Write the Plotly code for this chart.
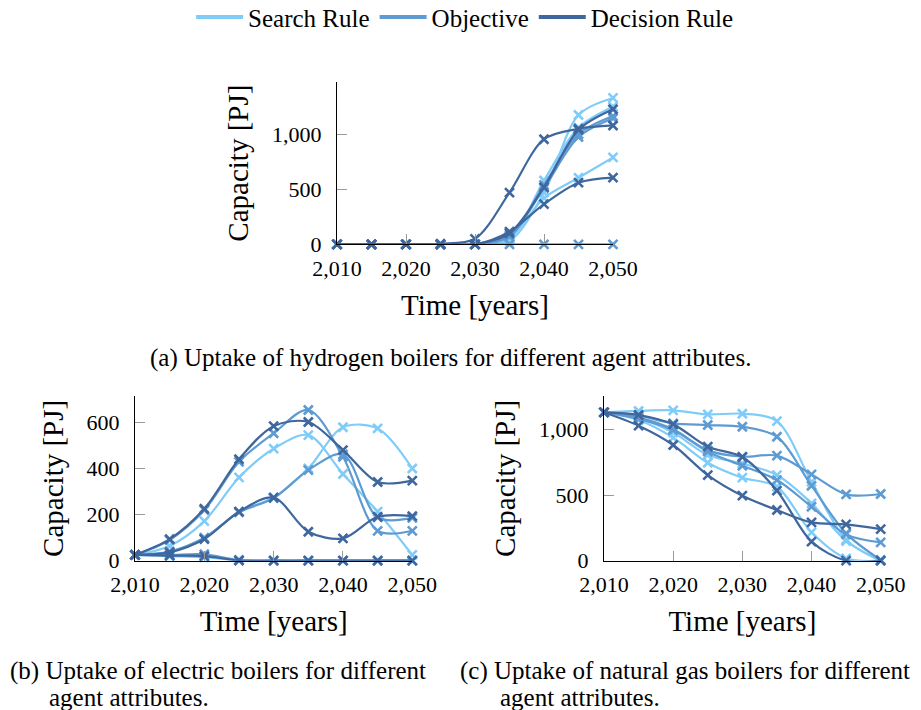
import plotly.graph_objects as go

# ---------------------------------------------------------------- data
years = [2010, 2015, 2020, 2025, 2030, 2035, 2040, 2045, 2050]

group_names = ["Search Rule", "Objective", "Decision Rule"]
group_colors = ["#80CCF9", "#5D9BD2", "#3F679E"]

# (a) hydrogen boilers [PJ]
h2_search_1 = [0, 0, 0, 0, 0, 30, 470, 1175, 1330]
h2_search_2 = [0, 0, 0, 0, 0, 50, 580, 1060, 1250]
h2_search_3 = [0, 0, 0, 0, 0, 60, 420, 605, 790]
h2_objective_1 = [0, 0, 0, 0, 0, 70, 540, 1000, 1165]
h2_objective_2 = [0, 0, 0, 0, 0, 80, 510, 975, 1145]
h2_objective_3 = [0, 0, 0, 0, 0, 0, 0, 0, 0]
h2_decision_1 = [0, 0, 0, 5, 50, 470, 955, 1050, 1080]
h2_decision_2 = [0, 0, 0, 0, 0, 115, 365, 560, 606]
h2_decision_3 = [0, 0, 0, 0, 0, 100, 520, 1040, 1227]

# (b) electric boilers [PJ]
el_search_1 = [25, 64, 172, 362, 487, 546, 377, 213, 25]
el_search_2 = [25, 39, 97, 213, 275, 401, 580, 575, 401]
el_search_3 = [25, 20, 15, 2, 0, 0, 0, 0, 0]
el_objective_1 = [25, 90, 220, 430, 554, 655, 452, 130, 130]
el_objective_2 = [25, 40, 100, 210, 272, 394, 462, 188, 186]
el_objective_3 = [25, 25, 28, 3, 0, 0, 0, 0, 0]
el_decision_1 = [25, 94, 226, 441, 585, 603, 481, 342, 348]
el_decision_2 = [25, 36, 94, 213, 274, 126, 97, 191, 194]
el_decision_3 = [25, 22, 20, 1, 0, 0, 0, 0, 0]

# (c) natural gas boilers [PJ]
ng_search_1 = [1129, 1140, 1145, 1114, 1119, 1063, 600, 160, 0]
ng_search_2 = [1129, 1071, 937, 746, 632, 563, 216, 18, 0]
ng_search_3 = [1129, 1085, 975, 805, 740, 652, 437, 150, 0]
ng_objective_1 = [1129, 1104, 1046, 1033, 1020, 944, 571, 208, 5]
ng_objective_2 = [1129, 1090, 1000, 840, 792, 800, 657, 505, 508]
ng_objective_3 = [1129, 1080, 995, 830, 723, 614, 411, 200, 140]
ng_decision_1 = [1129, 1028, 881, 652, 495, 386, 292, 277, 241]
ng_decision_2 = [1129, 1109, 1038, 868, 789, 533, 145, 0, 0]

panels = [
    ("x", "y", [[h2_search_1, h2_search_2, h2_search_3],
                [h2_objective_1, h2_objective_2, h2_objective_3],
                [h2_decision_1, h2_decision_2, h2_decision_3]]),
    ("x2", "y2", [[el_search_1, el_search_2, el_search_3],
                  [el_objective_1, el_objective_2, el_objective_3],
                  [el_decision_1, el_decision_2, el_decision_3]]),
    ("x3", "y3", [[ng_search_1, ng_search_2, ng_search_3],
                  [ng_objective_1, ng_objective_2, ng_objective_3],
                  [ng_decision_1, ng_decision_2]]),
]

FONT = "Liberation Serif"


def serif(size):
    return dict(family=FONT, size=size, color="black")


fig = go.Figure()

for xa, ya, groups in panels:
    for name, color, series in zip(group_names, group_colors, groups):
        for values in series:
            fig.add_trace(go.Scatter(
                x=years, y=values, xaxis=xa, yaxis=ya,
                mode="lines+markers",
                line=dict(color=color, width=2.2, shape="spline", smoothing=0.9),
                marker=dict(symbol="x-thin", size=9, color=color,
                            line=dict(color=color, width=2.6)),
                cliponaxis=False, showlegend=False, hoverinfo="skip",
            ))

# legend entries (one per attribute group)
for name, color in zip(group_names, group_colors):
    fig.add_trace(go.Scatter(
        x=[None], y=[None], mode="lines", name=name,
        line=dict(color=color, width=4), showlegend=True,
    ))

W, H = 921, 710


def xdom(x0, x1):
    return [x0 / W, x1 / W]


def ydom(top, bottom):
    return [1 - bottom / H, 1 - top / H]


def x_axis(dom, anchor):
    return dict(
        domain=dom, anchor=anchor, range=[2010, 2050], automargin=False,
        tickvals=[2010, 2020, 2030, 2040, 2050], tickformat=",d",
        showline=True, linecolor="black", linewidth=1,
        ticks="inside", ticklen=10, tickcolor="#9a9a9a", tickwidth=1,
        showgrid=False, zeroline=False,
        tickfont=serif(22), ticklabelstandoff=4,
        title=dict(text="Time [years]", font=serif(29), standoff=14),
    )


def y_axis(dom, anchor, top, ticks):
    return dict(
        domain=dom, anchor=anchor, range=[0, top], automargin=False,
        tickvals=ticks, tickformat=",d",
        showline=True, linecolor="black", linewidth=1,
        ticks="inside", ticklen=10, tickcolor="#9a9a9a", tickwidth=1,
        showgrid=False, zeroline=False,
        tickfont=serif(22), ticklabelstandoff=10,
        title=dict(text="Capacity [PJ]", font=serif(29), standoff=14),
    )


fig.update_layout(
    width=W, height=H,
    margin=dict(l=0, r=0, t=0, b=0, autoexpand=False),
    paper_bgcolor="white", plot_bgcolor="white",
    font=serif(20),
    xaxis=x_axis(xdom(337, 613), "y"),
    yaxis=y_axis(ydom(82, 244.3), "x", 1475, [0, 500, 1000]),
    xaxis2=x_axis(xdom(135, 412.3), "y2"),
    yaxis2=y_axis(ydom(396, 560.7), "x2", 716, [0, 200, 400, 600]),
    xaxis3=x_axis(xdom(604, 880.7), "y3"),
    yaxis3=y_axis(ydom(396, 560.7), "x3", 1254, [0, 500, 1000]),
    legend=dict(orientation="h", x=0.505, xanchor="center", y=1.008, yanchor="top",
                font=serif(25), itemwidth=47, bgcolor="rgba(0,0,0,0)"),
    showlegend=True,
)

captions = [
    ("(a) Uptake of hydrogen boilers for different agent attributes.", 148, 358),
    ("(b) Uptake of electric boilers for different", 8, 671),
    ("agent attributes.", 47, 697),
    ("(c) Uptake of natural gas boilers for different", 458, 671),
    ("agent attributes.", 498, 697),
]
for text, px, py in captions:
    fig.add_annotation(
        text=text, xref="paper", yref="paper", x=px / W, y=1 - py / H,
        xanchor="left", yanchor="middle", showarrow=False,
        font=serif(25),
    )

fig.write_html("out.html")
